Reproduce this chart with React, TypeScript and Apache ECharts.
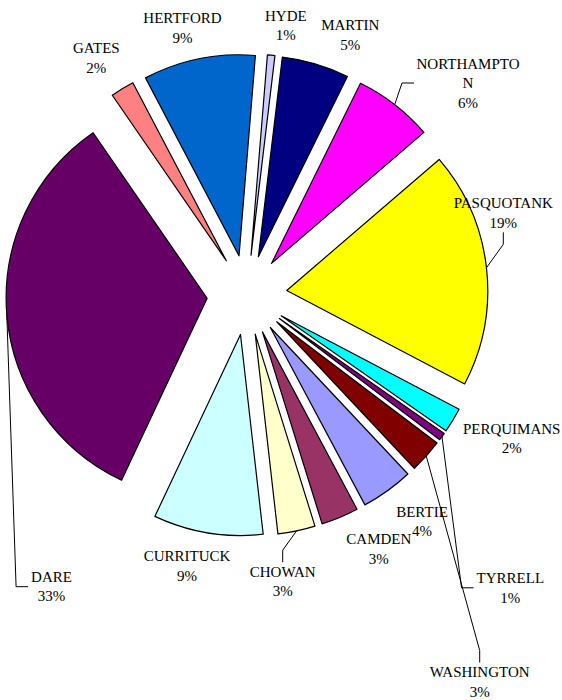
import React, { useEffect, useRef } from 'react';
import * as echarts from 'echarts';

// Counties (clockwise, alphabetical order as in the source chart)
const categories = [
  'BERTIE', 'CAMDEN', 'CHOWAN', 'CURRITUCK', 'DARE', 'GATES', 'HERTFORD',
  'HYDE', 'MARTIN', 'NORTHAMPTON', 'PASQUOTANK', 'PERQUIMANS', 'TYRRELL', 'WASHINGTON',
];

// Share of total (percent)
const values = [4.2, 3.0, 3.0, 8.8, 33.4, 1.9, 9.0, 0.6, 5.4, 6.4, 19.0, 2.0, 0.6, 2.7];

const colors = [
  '#9999FF', '#993366', '#FFFFCC', '#CCFFFF', '#660066', '#FF8080', '#0066CC',
  '#CCCCFF', '#000080', '#FF00FF', '#FFFF00', '#00FFFF', '#800080', '#800000',
];

// Labels that carry a leader line
const withLeader = ['NORTHAMPTON', 'PASQUOTANK', 'CHOWAN', 'DARE', 'TYRRELL', 'WASHINGTON'];
// Leader lines that enter their label from the left side
const leftLeader = ['DARE', 'TYRRELL'];

// Label block centres (layout only)
const labelCenters: Record<string, [number, number]> = {
  BERTIE: [422, 521.5],
  CAMDEN: [378.8, 549],
  CHOWAN: [282.7, 581.7],
  CURRITUCK: [187, 566],
  DARE: [51.5, 586.7],
  GATES: [96.3, 57.8],
  HERTFORD: [182.5, 27.8],
  HYDE: [285.8, 25.5],
  MARTIN: [350.3, 35],
  NORTHAMPTON: [468, 83],
  PASQUOTANK: [503.3, 212.8],
  PERQUIMANS: [511.7, 438.3],
  TYRRELL: [510.3, 587.8],
  WASHINGTON: [479.7, 682],
};

const FONT = '"Liberation Serif", "Times New Roman", serif';
const CX = 247;
const CY = 295;
const RADIUS = 201;
const START = -46.8;
const EXPLODE = 40;

export default function App() {
  const ref = useRef<HTMLDivElement>(null);

  useEffect(() => {
    if (!ref.current) return;
    const chart = echarts.init(ref.current, null, { renderer: 'svg' });
    const total = values.reduce((a, b) => a + b, 0);

    // one pie series per exploded slice; all share the same data so ECharts
    // computes identical angles, only slice i is painted in series i
    let cum = 0;
    const series = categories.map((cat, i) => {
      const midDeg = START - ((cum + values[i] / 2) / total) * 360;
      cum += values[i];
      const rad = (midDeg * Math.PI) / 180;
      const center = [CX + EXPLODE * Math.cos(rad), CY - EXPLODE * Math.sin(rad)];
      return {
        type: 'pie',
        name: cat,
        center,
        radius: RADIUS,
        startAngle: START,
        clockwise: true,
        silent: true,
        avoidLabelOverlap: false,
        emphasis: { disabled: true },
        label: {
          show: false,
          position: 'outside',
          formatter: (p: any) => `${p.name}\n${Math.round(p.percent)}%`,
          color: '#000',
          fontFamily: FONT,
          fontSize: 15,
          lineHeight: 19.5,
          align: 'center',
        },
        labelLine: {
          show: false,
          length: 5,
          length2: 12,
          lineStyle: { color: '#000', width: 1 },
        },
        labelLayout: (p: any) => {
          const nm = categories[p.dataIndex];
          const c = labelCenters[nm];
          const res: any = { x: c[0], y: c[1], align: 'center', verticalAlign: 'middle' };
          if (leftLeader.includes(nm) && p.labelLinePoints && p.labelRect) {
            const left = c[0] - p.labelRect.width / 2 - 3;
            const s = p.labelLinePoints[0];
            res.labelLinePoints = [
              [s[0], s[1]],
              [left - 12, c[1]],
              [left, c[1]],
            ];
          }
          return res;
        },
        data: categories.map((name, j) => {
          const own = j === i;
          return {
            name,
            value: values[j],
            itemStyle: own
              ? { color: colors[j], borderColor: '#000', borderWidth: 1.2 }
              : { color: 'rgba(0,0,0,0)', borderWidth: 0 },
            label: own
              ? name === 'NORTHAMPTON'
                ? { show: true, width: 108, overflow: 'breakAll' }
                : { show: true }
              : { show: false },
            labelLine: { show: own && withLeader.includes(name) },
          };
        }),
      };
    });

    chart.setOption({
      animation: false,
      backgroundColor: '#ffffff',
      series,
    });
    return () => chart.dispose();
  }, []);

  return (
    <div
      ref={ref}
      style={{ position: 'fixed', left: 0, top: 0, width: 562, height: 700 }}
    />
  );
}
